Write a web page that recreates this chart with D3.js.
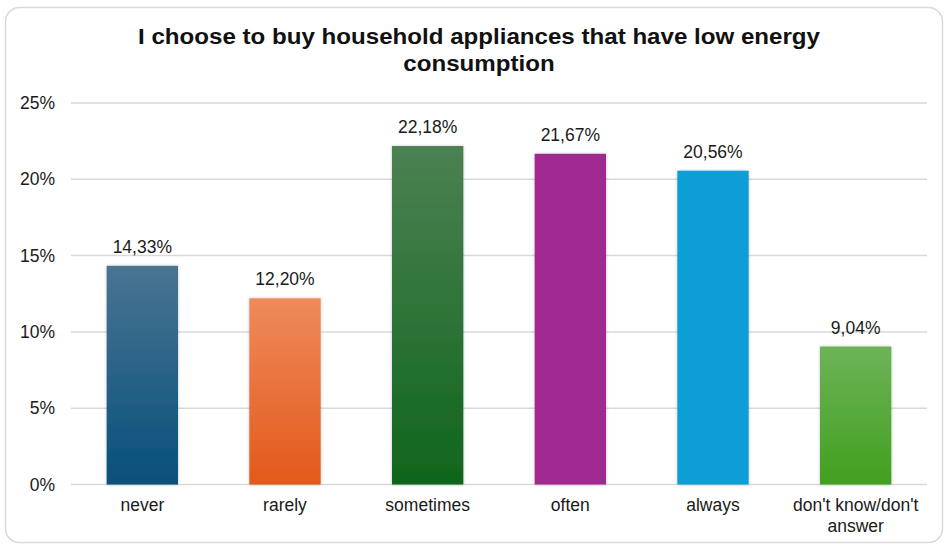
<!DOCTYPE html>
<html>
<head>
<meta charset="utf-8">
<script src="https://cdn.jsdelivr.net/npm/d3@7"></script>
<style>
  html, body { margin: 0; padding: 0; background: #fff; }
  svg { display: block; font-family: "Liberation Sans", Arial, sans-serif; }
</style>
</head>
<body>
<svg id="chart" width="946" height="545"></svg>
<script>
const categories = ["never", "rarely", "sometimes", "often", "always", "don't know/don't answer"];
const categoryLines = [["never"], ["rarely"], ["sometimes"], ["often"], ["always"], ["don't know/don't", "answer"]];
const values = [14.33, 12.20, 22.18, 21.67, 20.56, 9.04];
const valueLabels = ["14,33%", "12,20%", "22,18%", "21,67%", "20,56%", "9,04%"];
const yTicks = [0, 5, 10, 15, 20, 25];
const yTickLabels = ["0%", "5%", "10%", "15%", "20%", "25%"];
const titleLines = ["I choose to buy household appliances that have low energy", "consumption"];
const colorTop = ["#4a7492", "#ef8a5c", "#4c8153", "#a02b90", "#119ed6", "#6db357"];
const colorBottom = ["#07507a", "#e2591a", "#0f651c", "#a02b90", "#119ed6", "#42a01f"];

const svg = d3.select("#chart");
const mLeft = 71, mRight = 927, mTop = 103, mBottom = 484.5;

// border
svg.append("rect")
  .attr("x", 5.5).attr("y", 7.5).attr("width", 937).attr("height", 535)
  .attr("rx", 14).attr("ry", 14)
  .attr("fill", "#fff").attr("stroke", "#d9d9d9").attr("stroke-width", 1.5);

// gradients & shadow
const defs = svg.append("defs");
categories.forEach((c, i) => {
  const g = defs.append("linearGradient").attr("id", "g" + i)
    .attr("x1", 0).attr("y1", 0).attr("x2", 0).attr("y2", 1);
  g.append("stop").attr("offset", "0%").attr("stop-color", colorTop[i]);
  g.append("stop").attr("offset", "100%").attr("stop-color", colorBottom[i]);
});
const f = defs.append("filter").attr("id", "sh").attr("x", "-20%").attr("y", "-20%").attr("width", "140%").attr("height", "140%");
f.append("feDropShadow").attr("dx", 0).attr("dy", 0).attr("stdDeviation", 1.5)
  .attr("flood-color", "#000").attr("flood-opacity", 0.25);

const x = d3.scaleBand().domain(categories).range([mLeft, mRight]).paddingInner(0.5).paddingOuter(0.25);
const y = d3.scaleLinear().domain([0, 25]).range([mBottom, mTop]);

// gridlines
svg.append("g").selectAll("line").data(yTicks).join("line")
  .attr("x1", mLeft).attr("x2", mRight)
  .attr("y1", d => y(d)).attr("y2", d => y(d))
  .attr("stroke", "#d9d9d9").attr("stroke-width", 1.5);

// y axis labels
const yAxis = d3.axisLeft(y).tickValues(yTicks).tickFormat((d, i) => yTickLabels[i]).tickSize(0).tickPadding(16);
const ya = svg.append("g").attr("transform", `translate(${mLeft},0)`).call(yAxis);
ya.select(".domain").remove();
ya.selectAll("text").attr("font-size", 17.5).attr("fill", "#1a1a1a")
  .attr("font-family", "Liberation Sans, Arial, sans-serif");

// bars
svg.append("g").selectAll("rect").data(values).join("rect")
  .attr("x", (d, i) => x(categories[i]))
  .attr("width", x.bandwidth())
  .attr("y", d => y(d))
  .attr("height", d => y(0) - y(d))
  .attr("fill", (d, i) => `url(#g${i})`)
  .attr("filter", "url(#sh)");

// value labels
svg.append("g").selectAll("text").data(values).join("text")
  .attr("x", (d, i) => x(categories[i]) + x.bandwidth() / 2)
  .attr("y", d => y(d) - 13)
  .attr("text-anchor", "middle")
  .attr("font-size", 17.5).attr("fill", "#1a1a1a")
  .text((d, i) => valueLabels[i]);

// x labels
const xl = svg.append("g").selectAll("text").data(categories).join("text")
  .attr("x", d => x(d) + x.bandwidth() / 2)
  .attr("y", 511)
  .attr("text-anchor", "middle")
  .attr("font-size", 17.5).attr("fill", "#1a1a1a");
xl.each(function(d, i) {
  const t = d3.select(this);
  categoryLines[i].forEach((ln, k) => {
    t.append("tspan").attr("x", x(d) + x.bandwidth() / 2).attr("dy", k === 0 ? 0 : 21).text(ln);
  });
});

// title
const tl = svg.append("g").selectAll("text").data(titleLines).join("text")
  .attr("x", 479).attr("y", (d, i) => 44 + i * 27)
  .attr("text-anchor", "middle")
  .attr("font-size", 22.5).attr("font-weight", "bold").attr("fill", "#111")
  .text(d => d);
const n0 = tl.nodes()[0].getComputedTextLength();
const sc = 682 / n0;
tl.each(function() {
  const len = this.getComputedTextLength();
  d3.select(this).attr("textLength", len * sc).attr("lengthAdjust", "spacingAndGlyphs");
});
</script>
</body>
</html>
